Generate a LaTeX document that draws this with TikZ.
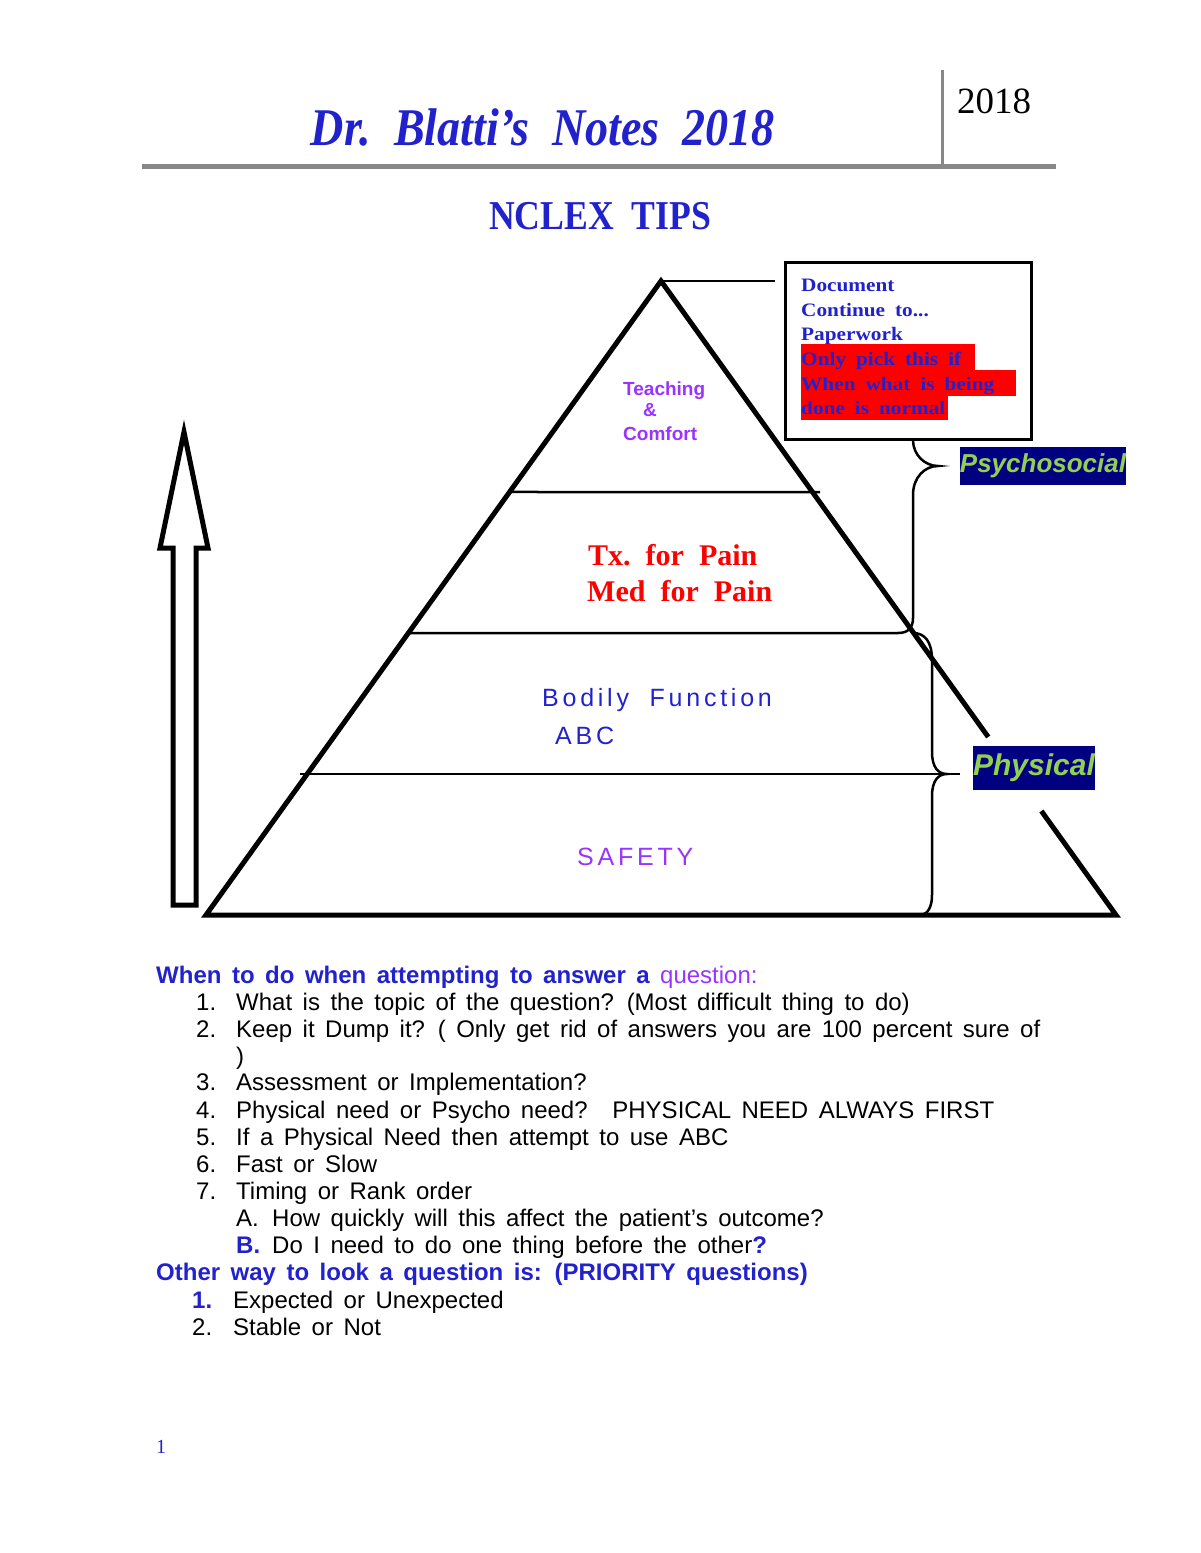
\documentclass[tikz,border=0pt]{standalone}
\usepackage{fontspec}
\setmainfont{Liberation Serif}
\setsansfont{Liberation Sans}
\newfontfamily\titlefont[FakeStretch=0.87]{Liberation Serif}
\newfontfamily\boxfont[FakeStretch=1.12]{Liberation Serif}
\newfontfamily\widesans[LetterSpace=15]{Liberation Sans}
\usetikzlibrary{calc}
\usetikzlibrary{positioning}
\newcommand{\gapwidth}[1]{\spaceskip=#1\relax}
\definecolor{noteblue}{RGB}{34,34,204}
\definecolor{tipviolet}{RGB}{153,51,255}
\definecolor{navybox}{RGB}{0,0,128}
\definecolor{limetext}{RGB}{146,208,80}
\definecolor{rulegray}{RGB}{136,136,136}
\tikzstyle{rule} = [draw=rulegray, line width=5pt]
\tikzstyle{side} = [draw=black, line width=5pt, line join=miter]
\tikzstyle{tier} = [draw=black, line width=2.5pt]
\tikzstyle{brace} = [draw=black, line width=2.5pt]
\tikzstyle{notebox} = [draw=black, line width=3pt, minimum width=246pt, minimum height=177pt]
\tikzstyle{boxline} = [anchor=base west, inner sep=0pt, text=noteblue,
  font=\boxfont\bfseries\fontsize{19}{19}\selectfont\gapwidth{10pt}]
\tikzstyle{tag} = [fill=navybox, text=limetext, inner xsep=0pt, font=\sffamily\bfseries\itshape]
\tikzstyle{pyrtext} = [anchor=base west, inner sep=0pt]
\tikzstyle{listtext} = [anchor=base west, inner sep=0pt,
  font=\sffamily\fontsize{24}{24}\selectfont\gapwidth{10.5pt}]
\tikzstyle{listhead} = [listtext, text=noteblue]
\begin{document}
\begin{tikzpicture}[x=1pt,y=-1pt]
  \useasboundingbox (0,0) rectangle (1200,1553);
  % header
  \node[anchor=base, inner sep=0pt, text=noteblue,
    font=\titlefont\bfseries\itshape\fontsize{53}{53}\selectfont] (title) at (543,145)
    {Dr.~~Blatti’s~~Notes~~2018};
  \node[anchor=base west, inner sep=0pt, font=\fontsize{37}{37}\selectfont] (year) at (957,113) {2018};
  \draw[rule] (142,166) -- (1056,166);
  \draw[rule, line width=3pt] (942,70) -- (942,166);
  \node[anchor=base, inner sep=0pt, text=noteblue,
    font=\titlefont\bfseries\fontsize{41}{41}\selectfont] (tips) at (600,229) {NCLEX~~TIPS};
  % pyramid
  \coordinate (apex) at (661,281);
  \coordinate (baseL) at (206,915);
  \coordinate (baseR) at (1116,915);
  \coordinate (gapT) at ($(apex)!0.7192!(baseR)$);
  \coordinate (gapB) at ($(apex)!0.8360!(baseR)$);
  \draw[side] (gapT) -- (apex) -- (baseL) -- (baseR) -- (gapB);
  \draw[tier] ($(apex)!0.3328!(baseL)$) -- (820,492);
  \draw[tier] ($(apex)!0.5552!(baseL)$) -- (898,633);
  \draw[tier] (300,774) -- (960,774);
  % note box
  \node[notebox] (notes) at (908,350.5) {};
  \coordinate (stub) at (775,281);
  \draw[tier] (apex) -- (stub);
  \fill[red] (801,344) rectangle (975,370);
  \fill[red] (801,370) rectangle (1016,396);
  \fill[red] (801,396) rectangle (948,420);
  \node[boxline] (doc1) at (801,291) {Document};
  \node[boxline] (doc2) at (801,316) {Continue to...};
  \node[boxline] (doc3) at (801,340) {Paperwork};
  \node[boxline] (doc4) at (801,365) {Only pick this if};
  \node[boxline] (doc5) at (801,390) {When what is being};
  \node[boxline] (doc6) at (801,414) {done is normal};
  % braces
  \draw[brace] (913,440) .. controls (913,455) and (925,466) .. (938,466)
    .. controls (925,466) and (913,477) .. (913,495) -- (913,618)
    .. controls (913,628) and (908,633) .. (898,633);
  \draw[brace] (913,633) .. controls (925,633) and (932,642) .. (932,660) -- (932,752)
    .. controls (932,767) and (938,774) .. (947,774)
    .. controls (938,774) and (932,781) .. (932,796) -- (932,895)
    .. controls (932,907) and (928,913) .. (922,915);
  \node[tag, font=\sffamily\bfseries\itshape\fontsize{26}{26}\selectfont,
    minimum width=160pt, minimum height=38pt] (psycho) at (1043,466) {Psychosocial};
  \node[tag, font=\sffamily\bfseries\itshape\fontsize{30}{30}\selectfont,
    minimum width=120pt, minimum height=44pt] (physical) at (1034,768) {Physical};
  % levels
  \node[pyrtext, text=tipviolet, font=\sffamily\bfseries\fontsize{19}{19}\selectfont] (teach) at (623,395) {Teaching};
  \node[pyrtext, text=tipviolet, font=\sffamily\bfseries\fontsize{19}{19}\selectfont] (amp) at (643,416) {\&};
  \node[pyrtext, text=tipviolet, font=\sffamily\bfseries\fontsize{19}{19}\selectfont] (comfort) at (623,440) {Comfort};
  \node[pyrtext, text=red, font=\bfseries\fontsize{30}{30}\selectfont] (pain1) at (588,565) {Tx.~~for~~Pain};
  \node[pyrtext, text=red, font=\bfseries\fontsize{30}{30}\selectfont] (pain2) at (587,601) {Med~~for~~Pain};
  \node[pyrtext, text=noteblue, font=\widesans\fontsize{25}{25}\selectfont] (bodily) at (542,706) {Bodily\hspace{10pt} Function};
  \node[pyrtext, text=noteblue, font=\widesans\fontsize{25}{25}\selectfont] (abc) at (555,744) {ABC};
  \node[pyrtext, text=tipviolet, font=\widesans\fontsize{25}{25}\selectfont] (safety) at (577,865) {SAFETY};
  % upward arrow
  \draw[side] (173,905) -- (173,548) -- (160,548) -- (184,432) -- (208,548)
    -- (196,548) -- (196,905) -- cycle;
  % tips list
  \node[listhead] (when) at (156,983)
    {\bfseries When to do when attempting to answer a \textcolor{tipviolet}{\mdseries question:}};
  \foreach \n/\y/\t in {1/1010/{What is the topic of the question? (Most difficult thing to do)},
      2/1037/{Keep it Dump it? ( Only get rid of answers you are 100 percent sure of},
      3/1090/{Assessment or Implementation?},
      4/1118/{Physical need or Psycho need? \hspace{12pt}PHYSICAL NEED ALWAYS FIRST},
      5/1145/{If a Physical Need then attempt to use ABC},
      6/1172/{Fast or Slow},
      7/1199/{Timing or Rank order}} {
    \node[listtext] (num\n) at (196,\y) {\n.};
    \node[listtext] (item\n) at (236,\y) {\t};
  }
  \node[listtext] (close2) at (236,1064) {)};
  \node[listtext] (subA) at (236,1226) {A.};
  \node[listtext] (itemA) at (272,1226) {How quickly will this affect the patient’s outcome?};
  \node[listhead] (subB) at (236,1253) {\bfseries B.};
  \node[listtext] (itemB) at (272,1253) {Do I need to do one thing before the other\textcolor{noteblue}{\bfseries ?}};
  \node[listhead] (other) at (156,1280) {\bfseries Other way to look a question is: (PRIORITY questions)};
  \node[listhead] (onum1) at (192,1308) {\bfseries 1.};
  \node[listtext] (oitem1) at (233,1308) {Expected or Unexpected};
  \node[listtext] (onum2) at (192,1335) {2.};
  \node[listtext] (oitem2) at (233,1335) {Stable or Not};
  \node[anchor=base west, inner sep=0pt, text=noteblue, font=\fontsize{20}{20}\selectfont] (page) at (156,1453) {1};
\end{tikzpicture}
\end{document}
